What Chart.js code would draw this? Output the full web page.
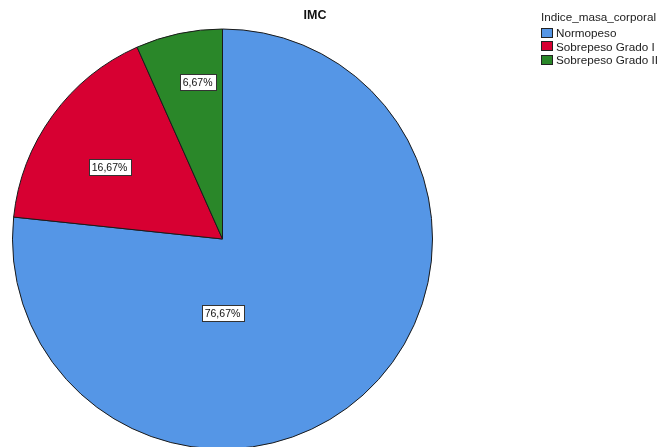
<!DOCTYPE html>
<html>
<head>
<meta charset="utf-8">
<script src="https://cdn.jsdelivr.net/npm/chart.js@4"></script>
<style>
  html, body { margin: 0; padding: 0; background: #fff; overflow: hidden; }
  #wrap { position: relative; width: 659px; height: 450px; }
  #title { position: absolute; left: 265px; width: 100px; top: 8px; text-align: center;
           font: bold 12.5px "Liberation Sans", Arial, sans-serif; color: #111; }
  #legend { position: absolute; left: 541px; top: 9px;
            font: 11.7px "Liberation Sans", Arial, sans-serif; color: #222; }
  #legend .head { height: 17px; line-height: 15px; }
  #legend .row { height: 13.5px; line-height: 13.5px; display: flex; align-items: center; }
  #legend .sw { width: 10px; height: 8px; border: 1px solid #222; margin-right: 3px; }
</style>
</head>
<body>
<div id="wrap">
  <canvas id="c" width="659" height="450"></canvas>
  <div id="title"></div>
  <div id="legend"></div>
</div>
<script>
// IMC categories and counts (n = 30)
const categories = ['Normopeso', 'Sobrepeso Grado I', 'Sobrepeso Grado II'];
const counts = [23, 5, 2];
const percentLabels = ['76,67%', '16,67%', '6,67%'];
const chartTitle = 'IMC';
const legendTitle = 'Indice_masa_corporal';

const sliceColors = ['#5596E6', '#D70032', '#2A8729'];
// where each percentage box sits: angle (deg, clockwise from 12 o'clock) and fraction of radius
const labelAnchors = [[180, 0.352], [302.5, 0.638], [351, 0.757]];

document.getElementById('title').textContent = chartTitle;
const lg = document.getElementById('legend');
const head = document.createElement('div');
head.className = 'head';
head.textContent = legendTitle;
lg.appendChild(head);
categories.forEach((name, i) => {
  const row = document.createElement('div');
  row.className = 'row';
  const sw = document.createElement('span');
  sw.className = 'sw';
  sw.style.background = sliceColors[i];
  const t = document.createElement('span');
  t.textContent = name;
  row.appendChild(sw);
  row.appendChild(t);
  lg.appendChild(row);
});

const boxLabels = {
  id: 'boxLabels',
  afterDatasetsDraw(chart) {
    const ctx = chart.ctx;
    const meta = chart.getDatasetMeta(0);
    ctx.save();
    ctx.font = '10.5px "Liberation Sans", Arial, sans-serif';
    ctx.textAlign = 'center';
    ctx.textBaseline = 'middle';
    meta.data.forEach((arc, i) => {
      const [deg, frac] = labelAnchors[i];
      const a = deg * Math.PI / 180;
      const r = arc.outerRadius * frac;
      const x = arc.x + Math.sin(a) * r;
      const y = arc.y - Math.cos(a) * r;
      const txt = percentLabels[i];
      const w = Math.round(ctx.measureText(txt).width) + 6;
      const h = 16;
      const bx = Math.round(x - w / 2) + 0.5, by = Math.round(y - h / 2) + 0.5;
      ctx.fillStyle = '#fff';
      ctx.fillRect(bx, by, w, h);
      ctx.strokeStyle = '#333';
      ctx.lineWidth = 1;
      ctx.strokeRect(bx, by, w, h);
      ctx.fillStyle = '#111';
      ctx.fillText(txt, x, y + 1);
    });
    ctx.restore();
  }
};

new Chart(document.getElementById('c'), {
  type: 'pie',
  data: {
    labels: categories,
    datasets: [{
      data: counts,
      backgroundColor: sliceColors,
      borderColor: '#1a1a1a',
      borderWidth: 1
    }]
  },
  options: {
    responsive: false,
    animation: false,
    layout: { padding: { left: 12, right: 226, top: 28, bottom: 0 } },
    plugins: {
      legend: { display: false },
      title: { display: false },
      tooltip: { enabled: false }
    }
  },
  plugins: [boxLabels]
});
</script>
</body>
</html>
